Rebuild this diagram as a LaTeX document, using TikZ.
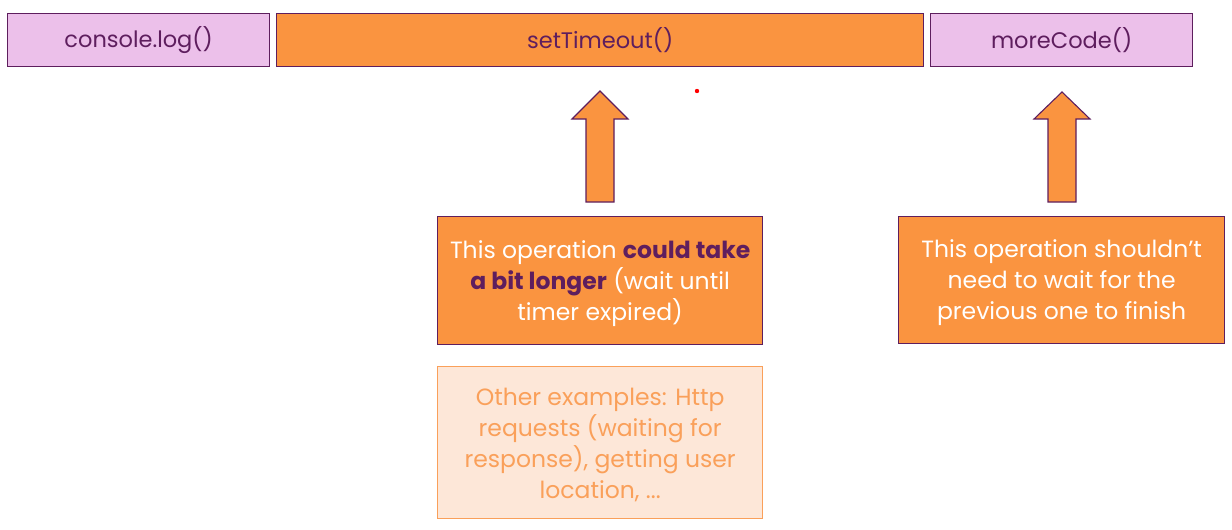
\documentclass[tikz,border=0pt]{standalone}
\usepackage{fontspec}
\setmainfont{Poppins}
\definecolor{orng}{HTML}{FA9440}
\definecolor{pnk}{HTML}{ECC0EA}
\definecolor{purp}{HTML}{5E1E5E}
\definecolor{lfill}{HTML}{FDE7D8}
\definecolor{lline}{HTML}{FAA05A}
\begin{document}
\begin{tikzpicture}[x=1pt,y=-1pt,
  base/.style={draw=purp, line width=1.3pt, inner sep=0pt, anchor=north west, align=center},
  pinkbox/.style={base, fill=pnk, text=purp, font=\fontsize{22.5}{26}\selectfont},
  orbox/.style={base, fill=orng, text=purp, font=\fontsize{22.5}{26}\selectfont},
  notebox/.style={base, fill=orng},
  notetext/.style={text=white, align=center, inner sep=0pt, yshift=-2.5pt, font=\fontsize{23.5}{31}\selectfont},
  lightbox/.style={base, draw=lline, fill=lfill},
  lighttext/.style={text=lline, align=center, inner sep=0pt, yshift=-2.5pt, font=\fontsize{23.5}{31}\selectfont},
  blockarrow/.style={draw=purp, fill=orng, line width=1.1pt, line join=miter}]
\useasboundingbox (0,0) rectangle (1232,530);
\node[pinkbox, minimum width=262pt, minimum height=53pt] (log) at (7,13) {\raisebox{-1pt}{console.log()}};
\node[orbox, minimum width=647pt, minimum height=53pt] (timeout) at (276,13) {\raisebox{-1pt}{setTimeout()}};
\node[pinkbox, minimum width=262pt, minimum height=53pt] (more) at (930,13) {\raisebox{-1pt}{moreCode()}};
\node[notebox, minimum width=325pt, minimum height=128pt,
  label={[notetext]center:{This operation \textbf{\textcolor{purp}{could take}}\\\textbf{\textcolor{purp}{a bit longer}} (wait until\\timer expired)}}] (long) at (437,216) {};
\node[lightbox, minimum width=325pt, minimum height=152pt,
  label={[lighttext]center:{Other examples: Http\\requests (waiting for\\response), getting user\\location, ...}}] (other) at (437,366) {};
\node[notebox, minimum width=326pt, minimum height=127pt,
  label={[notetext]center:{This operation shouldn’t\\need to wait for the\\previous one to finish}}] (wait) at (898,216) {};
% block arrows
\draw[blockarrow] (586,202) -- (586,119) -- (572,119) -- (600,91) -- (628,119) -- (614,119) -- (614,202) -- cycle;
\draw[blockarrow] (1048,202) -- (1048,119) -- (1034,119) -- (1062,92) -- (1090,119) -- (1076,119) -- (1076,202) -- cycle;
\fill[red] (697,91) circle (2.2pt);
\end{tikzpicture}
\end{document}
